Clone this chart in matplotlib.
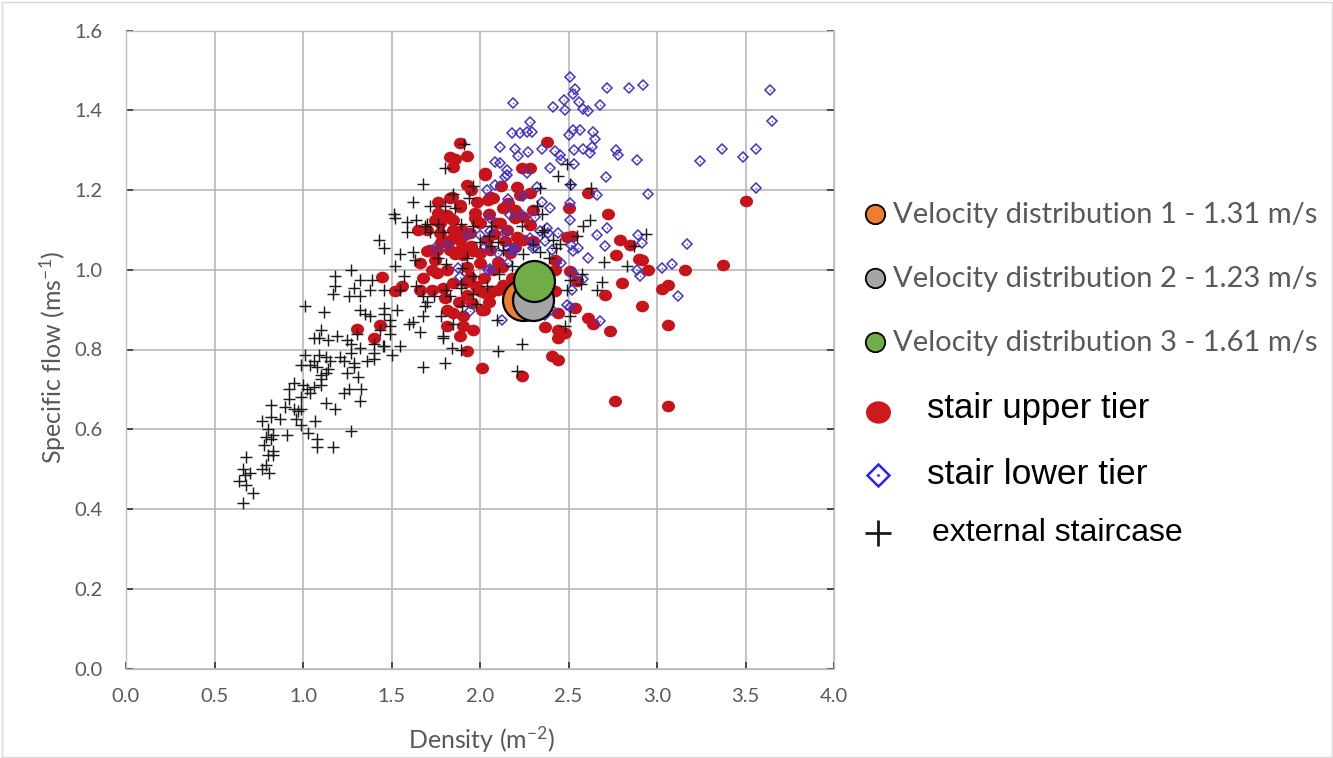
import numpy as np
import matplotlib
matplotlib.use("Agg")
import matplotlib.pyplot as plt
from matplotlib.path import Path
from matplotlib.patches import Rectangle

# ---------------------------------------------------------------------------
# Data: density (m^-2) and specific flow (m^-1 s^-1)
# ---------------------------------------------------------------------------
external_density = [
    0.66, 0.72, 0.68, 0.64, 0.67, 0.70, 0.66, 0.77, 0.81, 0.79, 0.68, 0.83, 0.80, 0.83,
    0.78, 0.82, 0.79, 0.83, 0.91, 0.80, 0.77, 0.82, 0.87, 0.82, 0.90, 0.92, 0.95, 0.97,
    0.99, 0.96, 0.99, 1.03, 1.07, 1.08, 1.08, 1.17, 1.27, 1.13, 1.18, 0.99, 0.92, 0.95,
    1.02, 1.04, 1.06, 1.10, 1.10, 1.00, 1.23, 1.26, 1.33, 1.32, 1.31, 1.25, 1.29, 1.13,
    1.10, 1.08, 1.14, 1.04, 0.99, 1.01, 1.09, 1.13, 1.06, 1.15, 1.21, 1.23, 1.27, 1.29,
    1.36, 1.40, 1.40, 1.50, 1.68, 1.80, 1.55, 1.84, 1.79, 1.45, 1.32, 1.27, 1.19, 1.14,
    1.09, 1.25, 1.49, 1.66,
    1.68, 1.62, 1.515, 1.52, 1.59, 1.64, 1.59, 1.70, 1.72, 1.76, 1.79, 1.43, 1.455, 1.55,
    1.62, 1.63, 1.52, 1.57, 1.27, 1.18, 1.18, 1.32, 1.39, 1.29, 1.17, 1.26, 1.32, 1.38,
    1.455, 1.01, 1.12, 1.32, 1.35, 1.38, 1.455, 1.46, 1.49, 1.53, 1.62, 1.60, 1.68, 1.69,
    1.78, 1.85, 1.79, 1.70, 1.74, 1.81, 1.83, 1.55, 1.64, 1.68, 1.89, 1.90, 1.96, 1.98,
    2.095, 2.10, 1.89, 1.10, 1.06, 1.305, 1.435, 1.49, 1.40, 1.455, 1.925, 1.96, 1.89,
    1.90, 1.89, 2.04, 1.96, 1.81, 1.76, 1.94, 1.85, 1.96, 2.10, 2.00,
    1.91, 1.80, 1.72, 1.80, 1.86, 1.69, 2.49, 2.44, 2.51, 2.625, 2.62, 2.58, 2.55, 2.94,
    2.34, 2.32, 2.35, 2.36, 2.24, 2.06, 2.06, 2.30, 2.43, 2.415, 2.245,
    2.87, 2.70, 2.83, 2.69, 2.66, 2.575, 2.57, 2.51, 2.49, 2.51, 2.48, 2.24, 2.21, 2.11,
    2.18, 2.34, 2.35, 2.45, 2.39, 2.05, 2.13,
]
external_flow = [
    0.415, 0.44, 0.46, 0.47, 0.485, 0.49, 0.50, 0.50, 0.49, 0.51, 0.53, 0.535, 0.535, 0.545,
    0.56, 0.575, 0.58, 0.585, 0.585, 0.60, 0.62, 0.63, 0.625, 0.66, 0.655, 0.675, 0.65, 0.645,
    0.65, 0.625, 0.61, 0.59, 0.62, 0.575, 0.555, 0.555, 0.595, 0.665, 0.65, 0.68, 0.70, 0.715,
    0.70, 0.69, 0.705, 0.71, 0.725, 0.71, 0.69, 0.70, 0.70, 0.67, 0.73, 0.74, 0.755, 0.74,
    0.735, 0.755, 0.75, 0.76, 0.76, 0.785, 0.785, 0.78, 0.77, 0.77, 0.78, 0.77, 0.79, 0.765,
    0.77, 0.775, 0.79, 0.785, 0.755, 0.765, 0.81, 0.805, 0.835, 0.81, 0.805, 0.815, 0.835, 0.825,
    0.83, 0.825, 0.84, 0.845,
    1.215, 1.17, 1.14, 1.13, 1.12, 1.125, 1.095, 1.115, 1.095, 1.115, 1.095, 1.075, 1.055, 1.04,
    1.045, 1.025, 1.01, 0.985, 1.00, 0.985, 0.96, 0.975, 0.975, 0.955, 0.94, 0.935, 0.935, 0.95,
    0.95, 0.91, 0.895, 0.90, 0.89, 0.885, 0.905, 0.89, 0.875, 0.90, 0.87, 0.865, 0.885, 0.91,
    0.885, 0.865, 0.83, 0.92, 0.935, 0.95, 0.935, 0.95, 0.96, 0.935, 0.955, 0.91, 0.985, 0.915,
    0.875, 0.795, 0.80, 0.85, 0.83, 0.84, 0.85, 0.86, 0.815, 0.81, 1.03, 1.11, 1.115,
    1.005, 0.965, 0.96, 0.94, 1.015, 1.03, 1.18, 1.19, 1.21, 1.07, 1.07,
    1.315, 1.255, 1.16, 1.16, 1.155, 1.11, 1.265, 1.235, 1.215, 1.205, 1.125, 1.11, 1.085, 1.09,
    1.205, 1.16, 1.14, 1.10, 1.11, 1.11, 1.06, 1.065, 1.055, 1.075, 1.04,
    1.06, 1.02, 1.01, 0.97, 0.95, 0.99, 0.965, 0.975, 0.95, 0.885, 0.86, 0.815, 0.745, 0.99,
    1.01, 1.045, 1.095, 1.065, 1.03, 1.085, 1.05,
]

upper_density = [
    3.375, 3.157, 3.063, 3.026, 2.95, 2.913, 3.063, 2.763, 3.063, 2.90, 2.80, 2.79, 2.77, 2.847,
    2.706, 2.734, 2.64, 2.61, 2.537, 2.443, 2.48, 2.443, 2.367, 2.405, 2.443, 2.236, 2.01, 2.425,
    2.443, 2.546, 2.51, 2.425, 2.425, 2.517, 2.03, 2.067, 2.01,
    2.377, 1.888, 1.831, 1.86, 1.926, 1.85, 2.03, 2.236, 2.283, 1.926, 2.211, 1.84, 2.047, 2.075,
    2.226, 2.283, 2.61, 2.725, 2.50, 1.765, 1.888, 1.972, 2.13, 2.16, 1.747, 1.83, 2.0, 2.113,
    2.198, 2.245, 2.283, 2.49, 1.70, 1.775, 1.85, 1.888, 1.944, 2.038, 2.142, 2.207, 2.245, 2.30,
    1.718, 1.83, 1.906, 2.0, 2.17,
    2.03, 1.83, 1.887, 1.812, 1.982, 2.057, 1.652, 1.775, 1.85, 1.982, 2.095, 1.869, 1.83, 1.70,
    1.756, 1.897, 1.963, 2.057, 2.198, 1.662, 1.747, 1.812, 1.756, 1.925, 2.0, 2.075, 2.122, 1.944,
    2.02, 2.13, 1.446, 1.52, 1.558, 1.662, 1.728, 1.793, 1.85, 1.925, 2.0, 2.057, 1.954, 1.812,
    1.85, 1.906, 2.02, 1.906, 1.963, 1.812, 1.305, 1.40, 1.436, 1.925, 1.887,
    3.505, 2.913,
    1.95, 1.90, 1.97, 2.05, 2.08, 1.86, 1.92, 1.98, 2.10, 2.15, 2.20, 1.78, 1.73, 1.68,
    1.80, 1.88, 2.05, 2.10, 2.18, 2.25, 2.30, 2.35, 1.95, 2.12, 1.76,
]
upper_flow = [
    1.0125, 1.0, 0.9625, 0.952, 1.0, 0.91, 0.8625, 0.671, 0.658, 1.027, 0.967, 1.075, 1.0375, 1.0625,
    0.9375, 0.846, 0.865, 0.879, 0.904, 0.829, 0.842, 0.85, 0.857, 0.783, 0.773, 0.733, 0.754, 0.946,
    0.892, 0.971, 0.996, 1.0, 1.025, 1.085, 0.942, 0.946, 0.90,
    1.321, 1.317, 1.283, 1.277, 1.285, 1.257, 1.242, 1.254, 1.254, 1.2125, 1.208, 1.183, 1.175, 1.179,
    1.1875, 1.192, 1.193, 1.14, 1.154, 1.142, 1.158, 1.142, 1.154, 1.167, 1.125, 1.129, 1.117, 1.117,
    1.129, 1.133, 1.1125, 1.083, 1.10, 1.092, 1.10, 1.075, 1.092, 1.075, 1.071, 1.083, 1.075, 1.071,
    1.05, 1.05, 1.0375, 1.042, 1.042,
    1.2375, 1.179, 1.1625, 1.1375, 1.171, 1.183, 1.10, 1.117, 1.125, 1.121, 1.117, 1.092, 1.075, 1.046,
    1.05, 1.058, 1.046, 1.05, 1.058, 1.017, 1.025, 1.0, 0.992, 1.008, 1.017, 1.0, 1.008, 0.983,
    0.979, 0.9625, 0.983, 0.946, 0.958, 0.95, 0.95, 0.954, 0.967, 0.9375, 0.946, 0.942, 0.917, 0.90,
    0.892, 0.883, 0.90, 0.858, 0.85, 0.858, 0.852, 0.829, 0.8625, 0.796, 0.833,
    1.1725, 1.025,
    1.06, 1.10, 1.13, 1.14, 1.09, 1.04, 0.97, 0.96, 1.02, 1.10, 1.15, 1.07, 1.00, 0.98,
    0.93, 0.92, 0.92, 0.95, 0.98, 1.00, 1.15, 0.98, 1.20, 1.21, 1.17,
]

lower_density = [
    2.508, 2.716, 2.843, 2.922, 2.537, 2.527, 2.188, 2.475, 2.56, 2.415, 2.678, 2.48, 2.584, 2.61,
    2.283, 2.292, 2.527, 2.565, 2.18, 2.226, 2.264, 2.50, 2.64, 2.65, 2.113, 2.198, 2.273, 2.217,
    2.35, 2.424, 2.452, 2.53, 2.584, 2.62, 2.63, 2.77, 2.78, 2.888, 2.085, 2.113, 2.15, 2.142,
    2.396, 2.46, 2.53, 2.264, 2.71, 2.95, 2.038, 2.085, 2.32, 2.16, 2.245, 2.35, 2.396, 2.516,
    2.66, 2.508, 2.17, 2.236, 2.31, 2.51, 2.057, 1.934, 2.142, 2.339, 2.386, 2.66, 2.716, 2.894,
    2.913, 1.747, 1.812, 2.10, 2.16, 2.31, 2.367, 2.527, 2.443,
    3.167, 3.026, 3.082, 3.12, 2.885, 2.904, 2.706, 2.61, 2.556, 2.46, 2.512, 2.527, 2.52, 2.49,
    2.508, 2.68, 2.584, 2.377, 2.283, 2.198, 2.047, 2.16, 2.405, 2.30, 2.405, 2.367, 2.122,
    3.637, 3.647, 3.37, 3.242, 3.486, 3.562, 3.562,
    2.15, 2.0, 2.057, 2.03, 2.187, 1.878, 1.887, 2.057, 1.944,
]
lower_flow = [
    1.483, 1.457, 1.457, 1.4625, 1.454, 1.442, 1.419, 1.425, 1.421, 1.408, 1.4125, 1.40, 1.404, 1.398,
    1.371, 1.346, 1.35, 1.35, 1.343, 1.343, 1.346, 1.3375, 1.346, 1.329, 1.307, 1.302, 1.296, 1.285,
    1.302, 1.298, 1.2875, 1.30, 1.302, 1.292, 1.308, 1.30, 1.2875, 1.275, 1.271, 1.267, 1.25, 1.233,
    1.254, 1.275, 1.265, 1.242, 1.233, 1.19, 1.20, 1.2125, 1.208, 1.177, 1.185, 1.171, 1.154, 1.2125,
    1.1875, 1.168, 1.1375, 1.1375, 1.133, 1.125, 1.129, 1.0875, 1.092, 1.096, 1.092, 1.0875, 1.104, 1.0875,
    1.068, 1.054, 1.0625, 1.042, 1.054, 1.058, 1.071, 1.046, 1.092,
    1.065, 1.004, 1.014, 0.935, 1.00, 0.985, 1.06, 1.029, 1.054, 1.017, 1.0625, 0.992, 0.948, 0.9125,
    0.907, 0.871, 0.977, 1.104, 1.079, 1.052, 1.0, 1.017, 1.05, 1.054, 0.90, 0.8875, 0.875,
    1.45, 1.373, 1.302, 1.2725, 1.282, 1.302, 1.204,
    1.2375, 1.0875, 1.096, 1.058, 1.05, 1.004, 0.983, 1.002, 0.896,
]

velocity_labels = ["Velocity distribution 1 - 1.31 m/s",
                   "Velocity distribution 2 - 1.23 m/s",
                   "Velocity distribution 3 - 1.61 m/s"]
velocity_density = [2.245, 2.300, 2.305]
velocity_flow = [0.925, 0.923, 0.971]
velocity_colors = ["#ed7d31", "#a5a5a5", "#70ad47"]

series_labels = ["stair upper tier", "stair lower tier", "external staircase"]
x_ticks = [0.0, 0.5, 1.0, 1.5, 2.0, 2.5, 3.0, 3.5, 4.0]
y_ticks = [0.0, 0.2, 0.4, 0.6, 0.8, 1.0, 1.2, 1.4, 1.6]

# ---------------------------------------------------------------------------
# Styling
# ---------------------------------------------------------------------------
plt.rcParams["font.family"] = ["Lato", "DejaVu Sans"]
plt.rcParams["mathtext.fontset"] = "custom"
plt.rcParams["mathtext.rm"] = "Lato"
plt.rcParams["mathtext.default"] = "regular"

TEXT_GREY = "#595959"
GRID_GREY = "#b8b8b8"
RED = "#c8131b"
BLUE = "#4334c8"

# slightly flattened ellipse marker for the upper-tier dots
circ = Path.unit_circle()
ellipse_marker = Path(circ.vertices * np.array([1.12, 1.0]), circ.codes)

W, H = 1333, 758
fig = plt.figure(figsize=(W / 100, H / 100), dpi=100)
fig.patch.set_facecolor("white")

ax = fig.add_axes([126 / W, 1 - 668.5 / H, 708 / W, 638 / H])
ax.set_xlim(0, 4)
ax.set_ylim(0, 1.6)
ax.set_xticks(x_ticks)
ax.set_yticks(y_ticks)
ax.set_xticklabels([f"{v:.1f}" for v in x_ticks])
ax.set_yticklabels([f"{v:.1f}" for v in y_ticks])
ax.grid(True, color=GRID_GREY, linewidth=1.2, zorder=0)
ax.set_axisbelow(True)
for sp in ax.spines.values():
    sp.set_color("#bfbfbf")
    sp.set_linewidth(1.0)
ax.tick_params(axis="both", direction="in", length=5, width=1.2, color="#333333",
               labelcolor=TEXT_GREY, labelsize=14.5)
ax.tick_params(axis="x", pad=14)
ax.tick_params(axis="y", pad=17, right=True)

ax.plot(upper_density, upper_flow, linestyle="none", marker=ellipse_marker, markersize=9.4,
        color=RED, markeredgewidth=0, zorder=2)
ax.plot(lower_density, lower_flow, linestyle="none", marker="D", markersize=5.5,
        markerfacecolor="none", markeredgecolor=BLUE, markeredgewidth=1.1, zorder=3)
ax.plot(lower_density, lower_flow, linestyle="none", marker="o", markersize=1.0,
        color=BLUE, markeredgewidth=0, zorder=3)
ax.plot(external_density, external_flow, linestyle="none", marker="+", markersize=8.0,
        color="#1a1a1a", markeredgewidth=1.05, zorder=4)
for xv, yv, c in zip(velocity_density, velocity_flow, velocity_colors):
    ax.plot([xv], [yv], linestyle="none", marker="o", markersize=29.5,
            markerfacecolor=c, markeredgecolor="black", markeredgewidth=1.6, zorder=5)

ax.set_xlabel("Density (m$^{-2}$)", fontsize=18, color=TEXT_GREY)
ax.set_ylabel("Specific flow (ms$^{-1}$)", fontsize=18, color=TEXT_GREY)
ax.xaxis.set_label_coords(0.503, -0.088)
ax.yaxis.set_label_coords(-0.082, 0.488)

# ---------------------------------------------------------------------------
# Legend, laid out in figure pixel space
# ---------------------------------------------------------------------------
lg = fig.add_axes([0, 0, 1, 1], facecolor="none")
lg.set_xlim(0, W)
lg.set_ylim(H, 0)
lg.axis("off")

vel_rows = [222.7, 286.7, 350.7]
for lab, c, yb in zip(velocity_labels, velocity_colors, vel_rows):
    lg.plot([875], [yb - 9], marker="o", markersize=14, markerfacecolor=c,
            markeredgecolor="black", markeredgewidth=1.3, linestyle="none")
    lg.text(893, yb, lab, fontsize=21, color=TEXT_GREY, ha="left", va="baseline")

lg.plot([878], [412], marker=ellipse_marker, markersize=18, color="#cc1a1f",
        markeredgewidth=0, linestyle="none")
lg.text(927, 418, series_labels[0], fontsize=25, color="black", ha="left",
        va="baseline", family=["Liberation Sans", "DejaVu Sans"])
lg.plot([878], [475], marker="D", markersize=11, markerfacecolor="none",
        markeredgecolor="#2a22f0", markeredgewidth=1.8, linestyle="none")
lg.plot([878], [475], marker="o", markersize=2.0, color="#2a22f0",
        markeredgewidth=0, linestyle="none")
lg.text(927, 484, series_labels[1], fontsize=25.5, color="black", ha="left",
        va="baseline", family=["Liberation Sans", "DejaVu Sans"])
lg.plot([878], [533], marker="+", markersize=19, color="#1a1a1a",
        markeredgewidth=2.0, linestyle="none")
lg.text(932, 541, series_labels[2], fontsize=23, color="black", ha="left",
        va="baseline", family=["Liberation Sans", "DejaVu Sans"])

# thin frame around the whole chart
fig.patches.append(Rectangle((1.5 / W, 1.5 / H), 1 - 3 / W, 1 - 3 / H,
                             transform=fig.transFigure, fill=False,
                             edgecolor="#d9d9d9", linewidth=1.0))

fig.savefig("out.png", dpi=100, facecolor="white")
